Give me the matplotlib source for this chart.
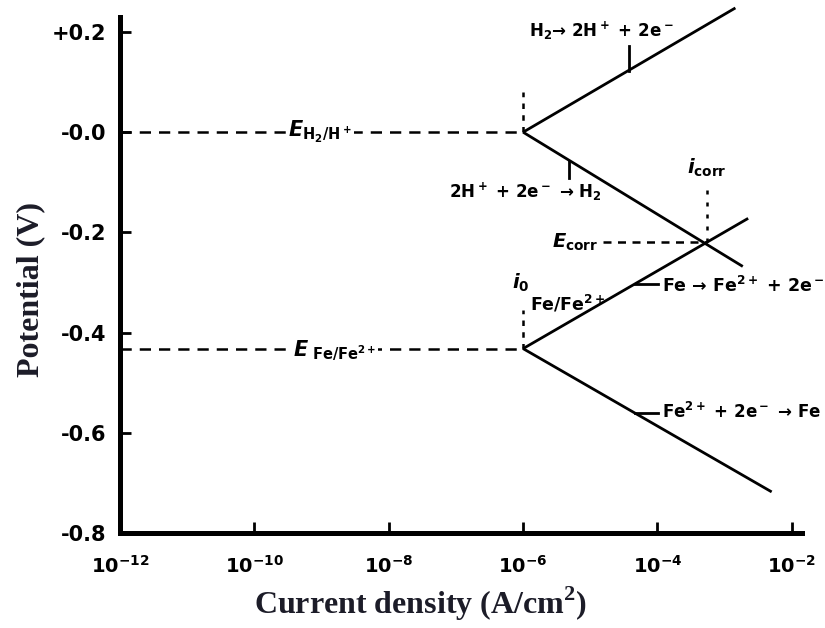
import matplotlib
matplotlib.use("Agg")
import matplotlib.pyplot as plt
import matplotlib.ticker as mticker

# ─── Style ────────────────────────────────────────────────────────────────────
plt.rcParams.update({
    "font.family": ["DejaVu Sans"],
    "font.weight": "bold",
    "mathtext.fontset": "custom",
    "mathtext.rm": "DejaVu Sans:bold",
    "mathtext.bf": "DejaVu Sans:bold",
    "mathtext.it": "DejaVu Sans:bold:italic",
    "mathtext.sf": "DejaVu Sans:bold",
})

INK = "black"
LABEL_INK = "#1c1c28"

# ─── Data ─────────────────────────────────────────────────────────────────────
xticks = [1e-12, 1e-10, 1e-8, 1e-6, 1e-4, 1e-2]
xtick_labels = [r"10$^{\mathregular{-12}}$", r"10$^{\mathregular{-10}}$", r"10$^{\mathregular{-8}}$",
                r"10$^{\mathregular{-6}}$", r"10$^{\mathregular{-4}}$", r"10$^{\mathregular{-2}}$"]
yticks = [0.2, 0.0, -0.2, -0.4, -0.6, -0.8]
ytick_labels = ["+0.2", "-0.0", "-0.2", "-0.4", "-0.6", "-0.8"]

# exchange current densities / equilibrium potentials
i0_H, E_H = 1e-6, 0.0
i0_Fe, E_Fe = 1e-6, -0.432

# Tafel branches (start, end)
h2_ox_i = [i0_H, 10 ** -2.84]
h2_ox_E = [E_H, 0.248]
h2_red_i = [i0_H, 10 ** -2.73]
h2_red_E = [E_H, -0.268]
fe_ox_i = [i0_Fe, 10 ** -2.65]
fe_ox_E = [E_Fe, -0.172]
fe_red_i = [i0_Fe, 10 ** -2.30]
fe_red_E = [E_Fe, -0.718]

# corrosion point
i_corr, E_corr = 10 ** -3.26, -0.22

# ─── Figure ───────────────────────────────────────────────────────────────────
fig = plt.figure(figsize=(8.25, 6.28), dpi=100)
ax = fig.add_axes([0.1455, 0.1513, 0.8265, 0.8217])
ax.set_xscale("log")
ax.set_xlim(1e-12, 10 ** -1.85)
ax.set_ylim(-0.8, 0.23)

for s in ("top", "right"):
    ax.spines[s].set_visible(False)
for s in ("left", "bottom"):
    ax.spines[s].set_linewidth(3.6)

ax.set_xticks(xticks)
ax.set_xticklabels(xtick_labels)
ax.xaxis.set_minor_locator(mticker.NullLocator())
ax.set_yticks(yticks)
ax.set_yticklabels(ytick_labels)
ax.tick_params(axis="both", direction="in", length=8, width=2, colors=INK)
ax.tick_params(axis="x", pad=16, labelsize=14)
ax.tick_params(axis="y", pad=10, labelsize=15)

ax.set_xlabel(r"Current density (A/cm$^{\mathregular{2}}$)", family="Liberation Serif",
              fontsize=23, fontweight="bold", color=LABEL_INK)
ax.set_ylabel("Potential (V)", family="Liberation Serif", fontsize=23,
              fontweight="bold", color=LABEL_INK)
ax.xaxis.set_label_coords(0.44, -0.1)
ax.yaxis.set_label_coords(-0.11, 0.471)

# Tafel lines
lw = 2.0
for xs, ys in [(h2_ox_i, h2_ox_E), (h2_red_i, h2_red_E), (fe_ox_i, fe_ox_E), (fe_red_i, fe_red_E)]:
    ax.plot(xs, ys, color=INK, lw=lw, clip_on=False, solid_capstyle="butt", zorder=3)

# equilibrium potentials (dashed)
xmin = ax.get_xlim()[0]
ax.plot([xmin, i0_H], [E_H, E_H], color=INK, lw=1.8, dashes=(4.5, 3.2), zorder=2)
ax.plot([xmin, i0_Fe], [E_Fe, E_Fe], color=INK, lw=1.8, dashes=(4.5, 3.2), zorder=2)
ax.plot([i0_H, i0_H], [E_H, 0.08], color=INK, lw=1.8, dashes=(2.2, 2.5), zorder=2)
ax.plot([i0_Fe, i0_Fe], [E_Fe, -0.354], color=INK, lw=1.8, dashes=(2.2, 2.5), zorder=2)

# corrosion point markers
ax.plot([10 ** -4.81, i_corr], [E_corr, E_corr], color=INK, lw=1.8, dashes=(3.2, 2.6), zorder=2)
ax.plot([i_corr, i_corr], [E_corr, -0.108], color=INK, lw=1.8, dashes=(1.6, 3.2), zorder=2)

white = dict(facecolor="white", edgecolor="none", pad=1.5)
ax.text(10 ** -9.02, E_H, r"$E_{\mathregular{H_2/H^+}}$", fontsize=15, ha="center",
        va="center", bbox=white, zorder=4)
ax.text(10 ** -8.81, E_Fe - 0.004, r"$E_{\ \mathregular{Fe/Fe^{2+}}}$", fontsize=15, ha="center",
        va="center", bbox=white, zorder=4)
ax.text(10 ** -4.88, E_corr, r"$E_{\mathregular{corr}}$", fontsize=14, ha="right",
        va="center", bbox=white, zorder=4)
ax.text(i_corr, -0.072, r"$i_{\mathregular{corr}}$", fontsize=14, ha="center", va="center")
ax.text(10 ** -6.03, -0.300, r"$i_{0}$", fontsize=14, ha="center", va="center")
ax.text(10 ** -5.9, -0.342, r"Fe/Fe$^{\mathregular{2+}}$", fontsize=12.5, ha="left", va="center")

# reaction labels with short leader ticks
ax.text(10 ** -4.83, 0.202, r"H$_2$→ 2H$^+$ + 2e$^-$", fontsize=12,
        ha="center", va="center")
ax.plot([10 ** -4.43, 10 ** -4.43], [0.123, 0.172], color=INK, lw=2)

ax.text(10 ** -5.97, -0.120, r"2H$^+$ + 2e$^-$ → H$_2$", fontsize=12,
        ha="center", va="center")
ax.plot([10 ** -5.32, 10 ** -5.32], [-0.058, -0.092], color=INK, lw=2)

ax.text(10 ** -3.93, -0.306, r"Fe → Fe$^{2+}$ + 2e$^-$", fontsize=12.5,
        ha="left", va="center", clip_on=False)
ax.plot([10 ** -4.33, 10 ** -3.99], [-0.304, -0.304], color=INK, lw=2)

ax.text(10 ** -3.93, -0.558, r"Fe$^{2+}$ + 2e$^-$ → Fe", fontsize=12,
        ha="left", va="center")
ax.plot([10 ** -4.33, 10 ** -3.99], [-0.560, -0.560], color=INK, lw=2)

fig.savefig("out.png", dpi=100)
